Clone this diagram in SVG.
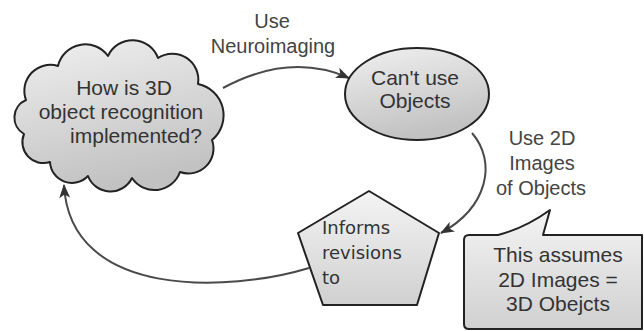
<svg xmlns="http://www.w3.org/2000/svg" width="644" height="331" viewBox="0 0 644 331">
  <defs>
    <linearGradient id="shade" x1="0" y1="0" x2="0.3" y2="1">
      <stop offset="0" stop-color="#f0f0f0"/>
      <stop offset="1" stop-color="#c2c2c2"/>
    </linearGradient>
    <linearGradient id="shadeLight" x1="0" y1="0" x2="0" y2="1">
      <stop offset="0" stop-color="#f4f4f4"/>
      <stop offset="1" stop-color="#d0d0d0"/>
    </linearGradient>
    <marker id="arrow" viewBox="0 0 14 11" refX="13" refY="5.5" markerWidth="14" markerHeight="11" markerUnits="userSpaceOnUse" orient="auto">
      <path d="M0,0 L14,5.5 L0,11 L3.5,5.5 Z" fill="#333"/>
    </marker>
    <style>
      .shape { stroke: #222; stroke-width: 2; stroke-linejoin: round; }
      .label { font-family: "Liberation Sans", Arial, sans-serif; font-size: 21px; fill: #333; text-anchor: middle; }
      .edge-label { font-family: "Liberation Sans", Arial, sans-serif; font-size: 20px; fill: #444; text-anchor: middle; }
      .penta-text { font-family: "DejaVu Sans", sans-serif; font-size: 18px; fill: #333; }
      .connector { fill: none; stroke: #4a4a4a; stroke-width: 2; marker-end: url(#arrow); }
    </style>
  </defs>

  <rect width="644" height="331" fill="#ffffff"/>

  <!-- connectors -->
  <g id="connectors">
    <path class="connector" d="M223,88 Q290,52 349,78"/>
    <path class="connector" d="M472,133 C497,162 488,207 441,233"/>
    <path class="connector" d="M309,268 C230,292 70,300 64,185"/>
  </g>

  <!-- question cloud -->
  <g id="node-question">
    <path class="shape" fill="url(#shade)" d="M26,100 A26,26 0 0 1 58,66 A28,28 0 0 1 108,56 A27,27 0 0 1 158,58 A26,26 0 0 1 198,84 A32,32 0 0 1 212,140 A25,25 0 0 1 180,172 A27,27 0 0 1 132,178 A24,24 0 0 1 88,176 A22,22 0 0 1 50,162 A21,21 0 0 1 24,134 A19,19 0 0 1 26,100 Z"/>
    <text class="label" x="124" y="95">How is 3D</text>
    <text class="label" x="121" y="119">object recognition</text>
    <text class="label" x="136" y="143">implemented?</text>
  </g>

  <!-- ellipse node -->
  <g id="node-objects">
    <ellipse class="shape" fill="url(#shade)" cx="417" cy="94" rx="72" ry="46"/>
    <text class="label" x="415" y="85">Can't use</text>
    <text class="label" x="415" y="108">Objects</text>
  </g>

  <!-- pentagon node -->
  <g id="node-informs">
    <path class="shape" fill="url(#shadeLight)" d="M369,191 L439,233 L417,305 L323,305 L298,233 Z"/>
    <text class="penta-text" x="322" y="234">Informs</text>
    <text class="penta-text" x="322" y="259">revisions</text>
    <text class="penta-text" x="322" y="284">to</text>
  </g>

  <!-- callout -->
  <g id="node-callout">
    <path class="shape" fill="url(#shadeLight)" d="M469,235 L498,235 Q525,228 550,210 L543,235 L642,235 L642,329 L469,329 Q464,329 464,324 L464,240 Q464,235 469,235 Z"/>
    <text class="label" x="558" y="262">This assumes</text>
    <text class="label" x="558" y="287">2D Images =</text>
    <text class="label" x="558" y="311">3D Obejcts</text>
  </g>

  <!-- edge labels -->
  <g id="edge-labels">
    <text class="edge-label" x="272" y="28">Use</text>
    <text class="edge-label" x="273" y="53">Neuroimaging</text>
    <text class="edge-label" x="542" y="145">Use 2D</text>
    <text class="edge-label" x="542" y="170">Images</text>
    <text class="edge-label" x="541" y="195">of Objects</text>
  </g>
</svg>
